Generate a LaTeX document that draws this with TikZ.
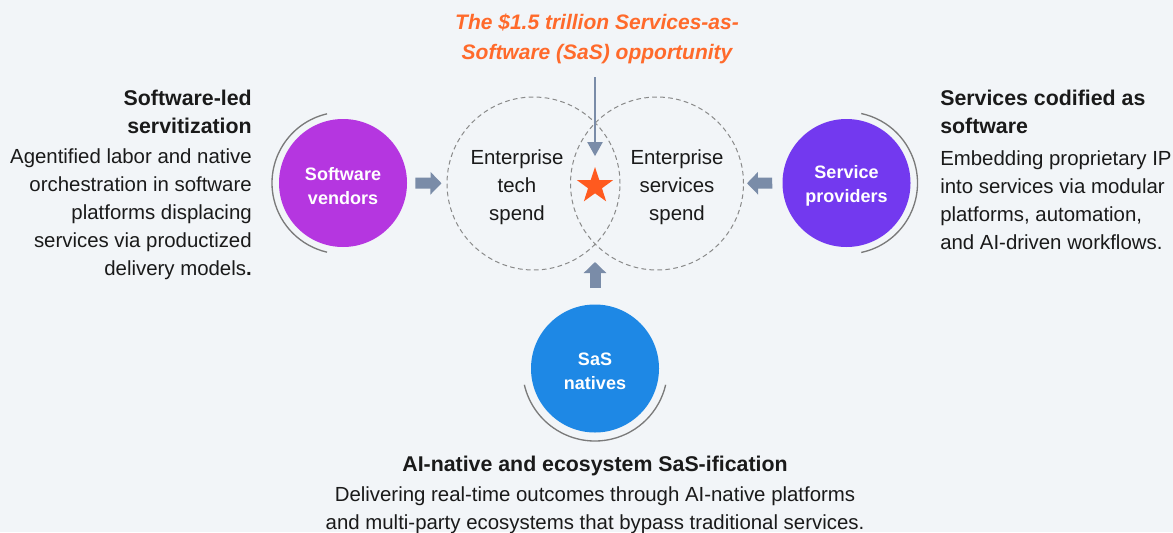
\documentclass[tikz,border=0pt]{standalone}
\usepackage{fontspec}
\setmainfont{Liberation Sans}
\usetikzlibrary{arrows.meta,shapes.geometric}
\definecolor{bgc}{HTML}{F2F5F8}
\definecolor{vendorc}{HTML}{B536E0}
\definecolor{providerc}{HTML}{7339EF}
\definecolor{nativec}{HTML}{1E88E5}
\definecolor{arrowc}{HTML}{7A8CA8}
\definecolor{orangec}{HTML}{FF6A2B}
\definecolor{starc}{HTML}{FF5A1F}
\definecolor{txtc}{HTML}{1A1A1A}
\definecolor{arcc}{HTML}{7A7A7A}
\definecolor{vennc}{HTML}{8A8A8A}
\begin{document}
\begin{tikzpicture}[x=0.75pt,y=0.75pt,
  actor/.style={circle,minimum size=96pt,inner sep=0pt,text=white,align=center,
    font=\fontsize{13.5pt}{18pt}\selectfont\bfseries},
  actorlabel/.style={inner sep=0pt,text=white,align=center,
    font=\fontsize{13.5pt}{18pt}\selectfont\bfseries},
  venn/.style={circle,minimum size=129.75pt,inner sep=0pt,draw=vennc,line width=0.75pt,
    dash pattern=on 3.5pt off 2.5pt},
  body/.style={inner sep=0pt,text=txtc,font=\fontsize{15.3pt}{21pt}\selectfont},
  head/.style={inner sep=0pt,text=txtc,font=\fontsize{16pt}{21pt}\selectfont\bfseries},
  fatarrow/.style={draw=arrowc,line width=8.25pt,-{Triangle[width=16.5pt,length=8.25pt]}},
  thinarrow/.style={draw=arrowc,line width=1.5pt,-{Triangle[width=11.25pt,length=10.5pt]}},
  halo/.style={draw=arcc,line width=1pt}]
\useasboundingbox (0,0) rectangle (1173,-532);
\fill[bgc] (0,0) rectangle (1173,-532);

% Venn circles
\node[venn] (vl) at (533.5,-183.5) {};
\node[venn] (vr) at (657,-183.5) {};
\node[body,align=center] (tl) at (517,-187) {Enterprise\\tech\\spend};
\node[body,align=center] (tr) at (677,-187) {Enterprise\\services\\spend};

% star
\node[star,star points=5,star point ratio=2.6,fill=starc,minimum size=28.5pt,inner sep=0pt] (star) at (595,-186) {};

% title
\node[inner sep=0pt,text=orangec,align=center,font=\fontsize{15.75pt}{22pt}\selectfont\bfseries\itshape] (title) at (597,-39) {The \$1.5 trillion Services-as-\\Software (SaS) opportunity};
\coordinate (ta) at (595,-77);
\draw[thinarrow] (ta) -- ([yshift=7.5pt]star.north);

% actors
\node[actor,fill=vendorc] (sv) at (343,-183) {};
\node[actor,fill=providerc] (sp) at (846.5,-183) {};
\node[actor,fill=nativec] (sn) at (595,-368.5) {};
\node[actorlabel] (svl) at (343,-186) {Software\\vendors};
\node[actorlabel] (spl) at (846.5,-186) {Service\\providers};
\node[actorlabel] (snl) at (595,-371) {SaS\\natives};

% halos
\draw[halo] (sv.center) ++(103:71) arc[start angle=103,end angle=257,radius=71];
\draw[halo] (sp.center) ++(-78:71) arc[start angle=-78,end angle=78,radius=71];
\draw[halo] (sn.center) ++(193:72.5) arc[start angle=193,end angle=347,radius=72.5];

% fat arrows
\coordinate (vb) at (595,-262);
\draw[fatarrow,shorten <=6pt,shorten >=3.75pt] (sv) -- (vl);
\draw[fatarrow,shorten <=7.5pt,shorten >=2.25pt] (sp) -- (vr);
\draw[fatarrow,shorten <=12pt] (sn) -- (vb);

% left texts
\node[head,align=right,anchor=east] (lh) at (252,-112) {Software-led\\servitization};
\node[body,align=right,anchor=east] (lb) at (252,-214.5) {Agentified labor and native\\orchestration in software\\platforms displacing\\services via productized\\delivery models\textbf{.}};

% right texts
\node[head,align=left,anchor=west] (rh) at (940,-112) {Services codified as\\software};
\node[body,align=left,anchor=west] (rb) at (940,-200.5) {Embedding proprietary IP\\into services via modular\\platforms, automation,\\and AI-driven workflows.};

% bottom texts
\node[head,align=center] (bh) at (595,-466) {AI-native and ecosystem SaS-ification};
\node[body,align=center] (bb) at (595,-510.5) {Delivering real-time outcomes through AI-native platforms\\and multi-party ecosystems that bypass traditional services.};
\end{tikzpicture}
\end{document}
